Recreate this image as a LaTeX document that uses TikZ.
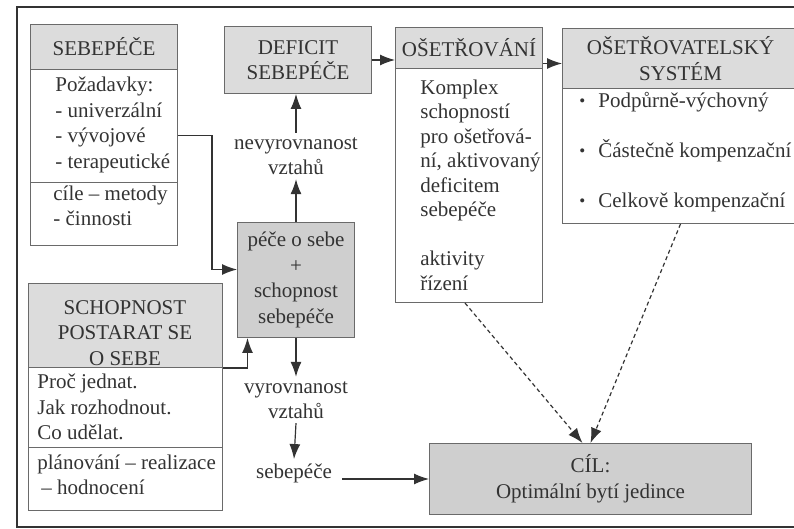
\documentclass[tikz,border=0pt]{standalone}
\usepackage{fontspec}
\setmainfont{Liberation Serif}
\usetikzlibrary{arrows.meta}
\definecolor{ink}{HTML}{333333}
\definecolor{edge}{HTML}{6A6A6A}
\definecolor{headfill}{HTML}{DCDCDC}
\definecolor{boxfill}{HTML}{CFCFCF}

\begin{document}
\begin{tikzpicture}[x=0.5pt, y=-0.5pt]
  \tikzstyle{outer} = [line width=1.3pt, color=ink]
  \tikzstyle{boxbody} = [draw=edge, line width=0.5pt, anchor=north west, inner sep=0pt,
                         align=center, text=ink, font=\fontsize{10.5}{12.75}\selectfont]
  \tikzstyle{boxhead} = [boxbody, fill=headfill]
  \tikzstyle{boxshade} = [boxbody, fill=boxfill]
  \tikzstyle{boxtext} = [anchor=west, align=left, inner sep=0pt, text=ink,
                         font=\fontsize{10.5}{12.75}\selectfont]
  \tikzstyle{note} = [align=center, inner sep=2pt, text=ink, font=\fontsize{10.5}{12.75}\selectfont]
  \tikzstyle{link} = [line width=0.6pt, color=ink, -{Latex[length=7.5pt, width=5.5pt]}]
  \tikzstyle{hint} = [link, dash pattern=on 2pt off 1.5pt]
  \newcommand{\dotitem}{\raisebox{0.6pt}{\fontsize{8.5}{8.5}\selectfont\textbullet}\hspace{6.5pt}}
  \useasboundingbox (0, 0) rectangle (794, 529);
  \draw[outer] (17, 7) rectangle (810, 527);
  % sebepece
  \node[boxhead, minimum width=73.5pt, minimum height=22.5pt] (sebeHead) at (30, 24) {SEBEPÉČE};
  \node[boxbody, minimum width=73.5pt, minimum height=56.5pt] (sebeReq) at (30, 69) {};
  \node[boxbody, minimum width=73.5pt, minimum height=31.5pt] (sebeGoal) at (30, 182) {};
  \node[boxtext] (sebeReqText) at (55, 125) {Požadavky:\\- univerzální\\- vývojové\\- terapeutické};
  \node[boxtext] (sebeGoalText) at (53, 206) {cíle – metody\\- činnosti};
  % deficit
  \node[boxhead, minimum width=73.5pt, minimum height=33.5pt] (deficit) at (224, 26) {DEFICIT\\SEBEPÉČE};
  % osetrovani
  \node[boxhead, minimum width=73.5pt, minimum height=20.5pt] (osetHead) at (395, 27) {OŠETŘOVÁNÍ};
  \node[boxbody, minimum width=73.5pt, minimum height=117pt] (osetBody) at (395, 68) {};
  \node[boxtext, font=\fontsize{10.5}{12.25}\selectfont] (osetText) at (420, 185)
    {Komplex\\schopností\\pro ošetřová-\\ní, aktivovaný\\deficitem\\sebepéče\\[12.25pt]aktivity\\řízení};
  % system
  \node[boxhead, minimum width=118pt, minimum height=30pt] (sysHead) at (562, 28) {OŠETŘOVATELSKÝ\\SYSTÉM};
  \node[boxbody, minimum width=118pt, minimum height=67.5pt] (sysBody) at (562, 88) {};
  \node[boxtext] (sysText) at (579, 152)
    {\dotitem Podpůrně-výchovný\\[12.25pt]\dotitem Částečně kompenzační\\[12.25pt]\dotitem Celkově kompenzační};
  % pece o sebe
  \node[boxshade, minimum width=58.5pt, minimum height=57.5pt] (pece) at (237, 222)
    {péče o sebe\\+\\schopnost\\sebepéče};
  % schopnost
  \node[boxhead, minimum width=97pt, minimum height=42pt] (schopHead) at (28, 283) {};
  \node[note, inner sep=0pt] (schopHeadText) at (125, 333) {SCHOPNOST\\POSTARAT SE\\O SEBE};
  \node[boxbody, minimum width=97pt, minimum height=40pt] (schopAsk) at (28, 367) {};
  \node[boxbody, minimum width=97pt, minimum height=31.5pt] (schopPlan) at (28, 447) {};
  \node[boxtext] (schopAskText) at (37, 407) {Proč jednat.\\Jak rozhodnout.\\Co udělat.};
  \node[boxtext] (schopPlanText) at (37, 475) {plánování – realizace\\\hspace*{2pt}– hodnocení};
  % cil
  \node[boxshade, minimum width=161pt, minimum height=35.5pt] (cil) at (429, 443)
    {CÍL:\\Optimální bytí jedince};
  % labels
  \node[note] (nevyrov) at (296, 156) {nevyrovnanost\\vztahů};
  \node[note] (vyrov) at (296, 400) {vyrovnanost\\vztahů};
  \node[note, inner xsep=5pt] (sebeLabel) at (294, 473) {sebepéče};
  % connectors
  \draw[link] (pece.north -| nevyrov.south) -- (nevyrov.south);
  \draw[link] (nevyrov.north) -- (nevyrov.north |- deficit.south);
  \draw[link] (deficit.east) -- (deficit.east -| osetHead.west);
  \draw[link] ([yshift=-7.75pt]osetHead.east) -- ([yshift=-7.75pt]osetHead.east -| sysHead.west);
  \draw[link] ([yshift=-4.75pt]sebeReq.east) -| ([xshift=-12.5pt, yshift=5.25pt]pece.west)
              -- ([yshift=5.25pt]pece.west);
  \draw[link] (schopHead.south east) -| ([xshift=-24.25pt]pece.south);
  \draw[link] (pece.south -| vyrov.north) -- (vyrov.north);
  \draw[link] (vyrov.south) -- (sebeLabel.north);
  \draw[link] (sebeLabel.east |- cil.west) -- (cil.west);
  \draw[hint] ([xshift=-2pt]osetBody.south) -- ([xshift=-4pt]cil.north);
  \draw[hint] (sysBody.south) -- (cil.north);
\end{tikzpicture}
\end{document}
